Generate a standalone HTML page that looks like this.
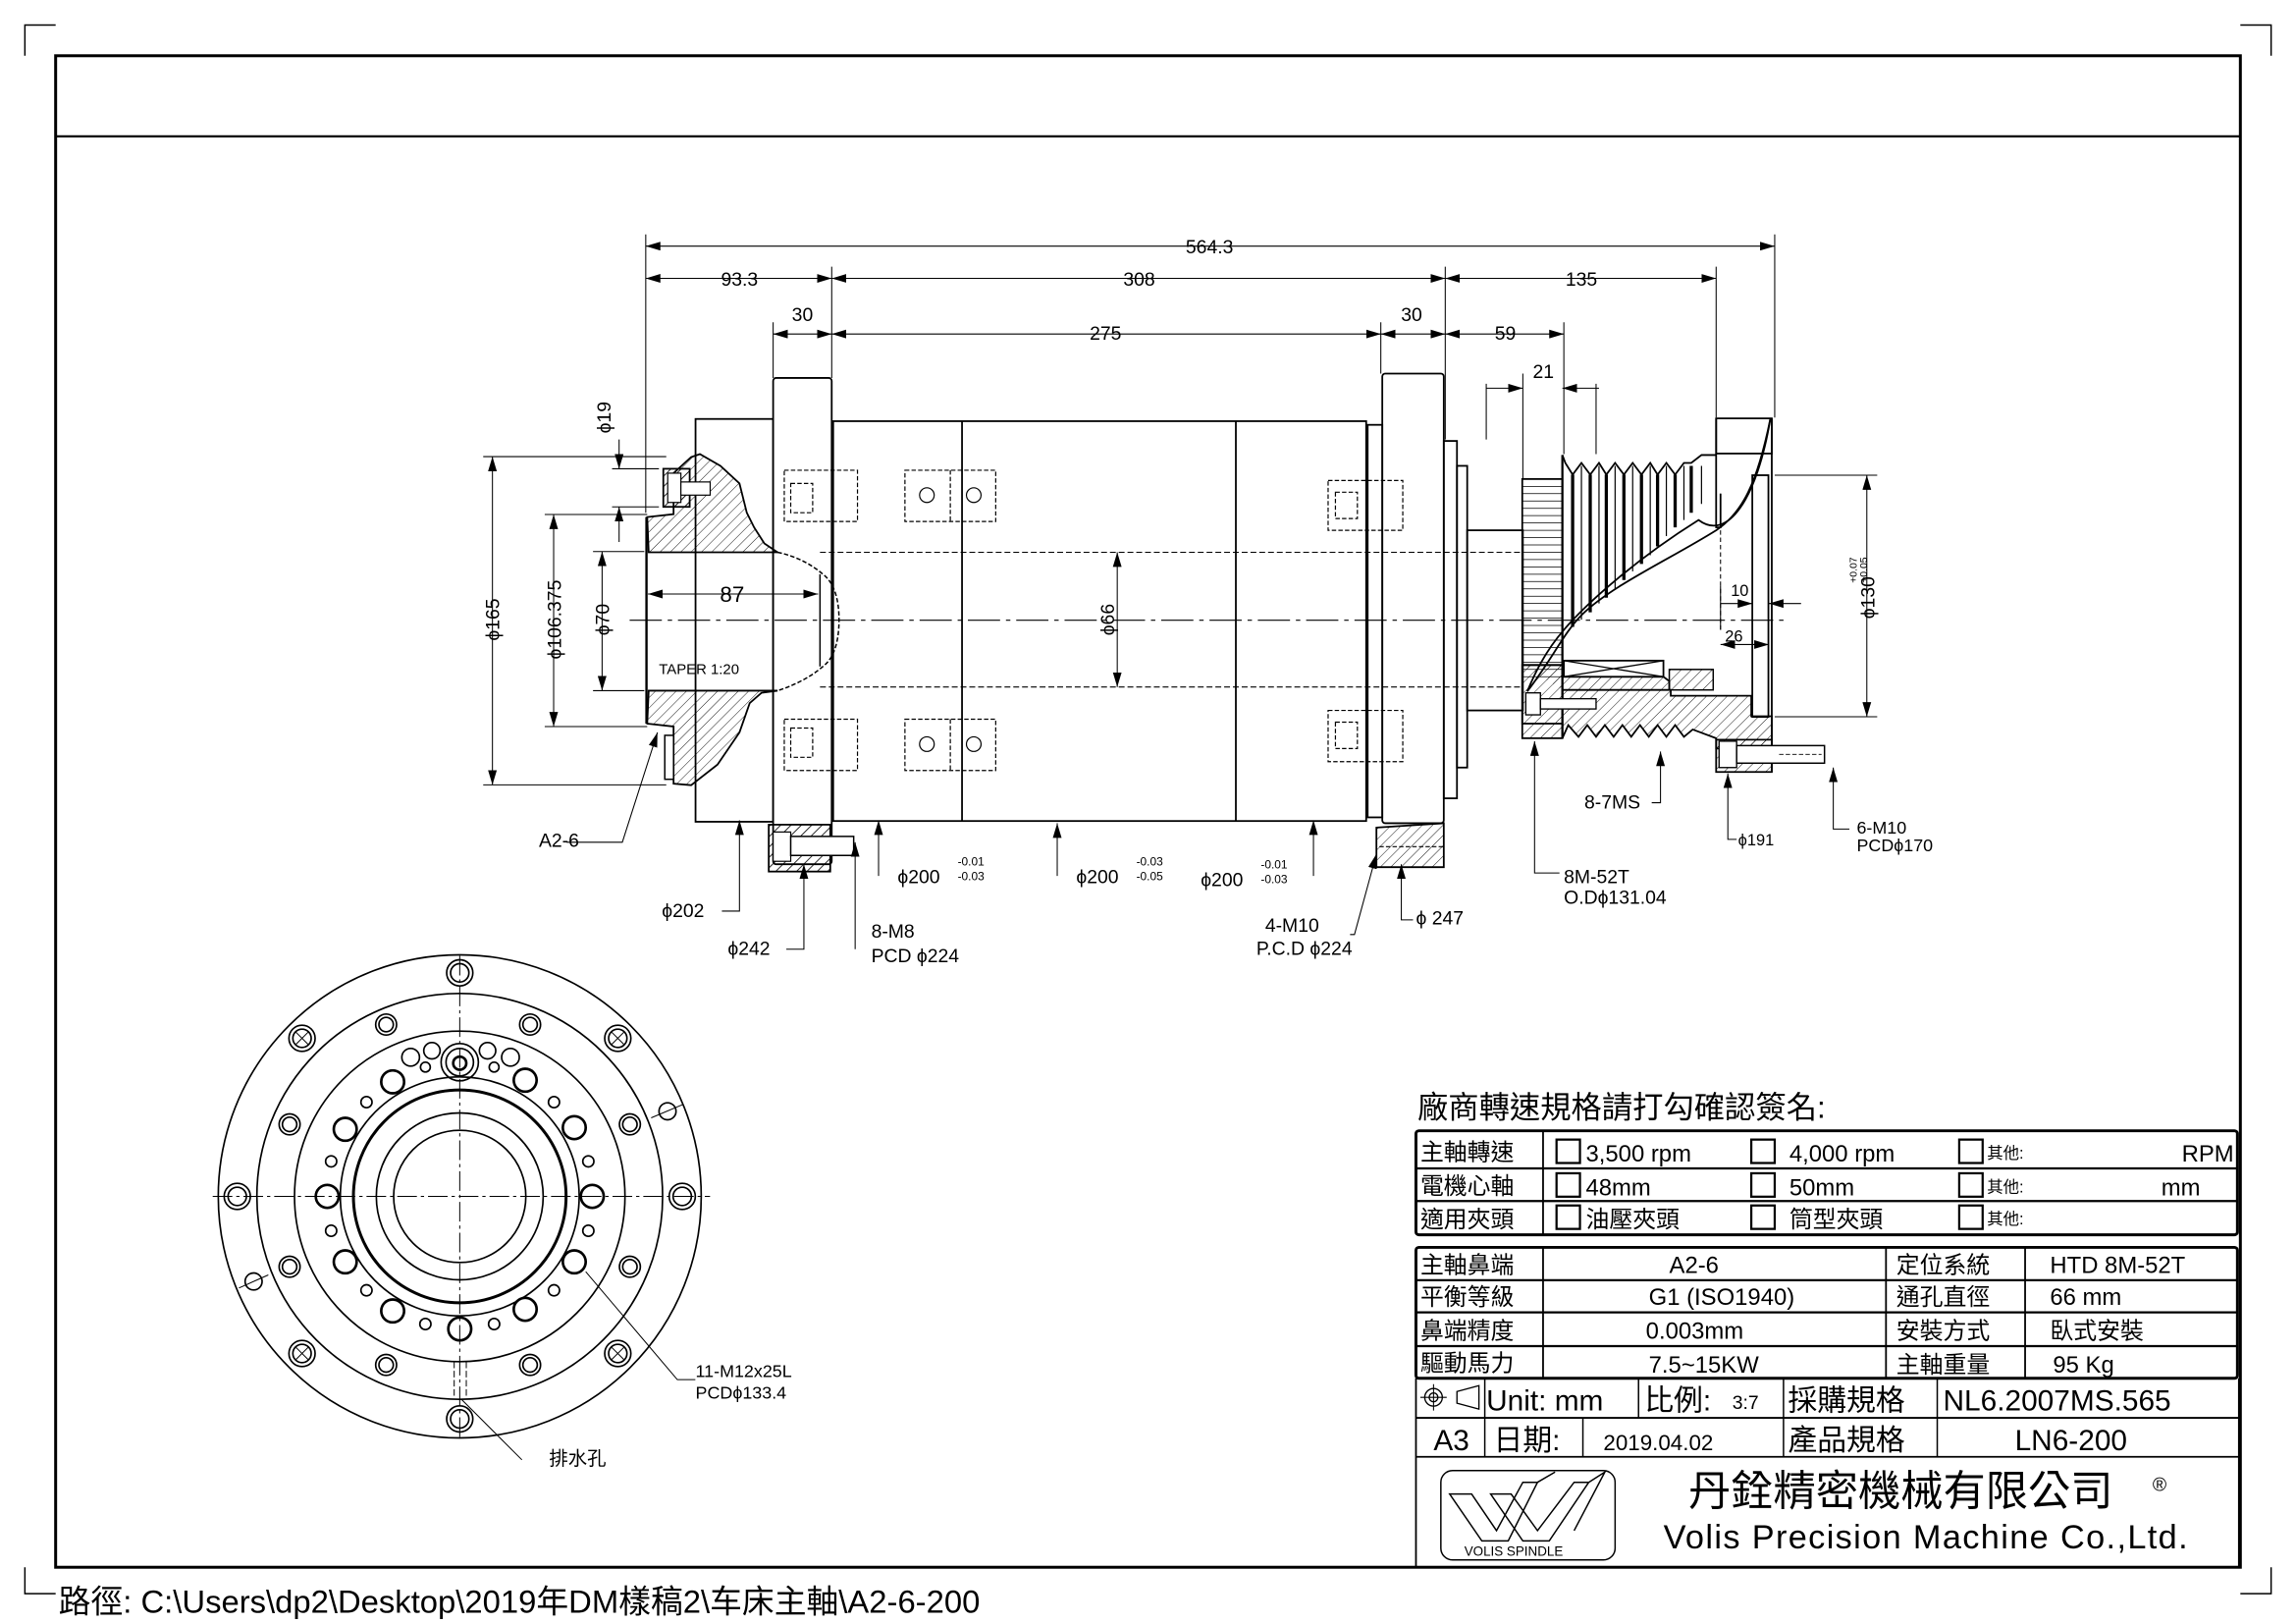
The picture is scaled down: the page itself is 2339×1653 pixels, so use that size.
<!DOCTYPE html>
<html><head><meta charset="utf-8">
<style>
html,body{margin:0;padding:0;background:#fff;}
svg{display:block;}
text{font-family:"Liberation Sans","Noto Sans CJK TC",sans-serif;fill:#000;}
.cj{font-family:"Liberation Sans","Noto Sans CJK TC",sans-serif;}
</style></head><body>
<svg width="2339" height="1653" viewBox="0 0 1568 1108" xmlns="http://www.w3.org/2000/svg">
<defs>
<marker id="ar" viewBox="0 0 10 6" refX="10" refY="3" markerWidth="10" markerHeight="6" orient="auto-start-reverse" markerUnits="userSpaceOnUse"><path d="M0,0 L10,3 L0,6 z" fill="#000"/></marker>
<pattern id="h" width="5" height="5" patternUnits="userSpaceOnUse" patternTransform="rotate(45)"><line x1="0" y1="0" x2="0" y2="5" stroke="#000" stroke-width="0.6"/></pattern>
<pattern id="h2" width="5" height="5" patternUnits="userSpaceOnUse" patternTransform="rotate(45)"><line x1="0" y1="0" x2="0" y2="5" stroke="#000" stroke-width="1.1"/></pattern>
</defs>
<rect width="1568" height="1108" fill="#fff"/>
<g fill="none" stroke="#000">
<rect x="38" y="38" width="1492" height="1032" stroke-width="2"/>
<line x1="38" y1="93" x2="1530" y2="93" stroke-width="1.5"/>
<path d="M17,38 V17 H38" stroke-width="1"/>
<path d="M1530,17 H1551 V38" stroke-width="1"/>
<path d="M1551,1070 V1088 H1530" stroke-width="1"/>
<path d="M17,1070 V1088 H38" stroke-width="1"/>
</g>
<text x="40" y="1101" font-size="22">路徑: C:\Users\dp2\Desktop\2019年DM樣稿2\车床主軸\A2-6-200</text>

<g fill="none" stroke="#000" stroke-width="1.2">
<line x1="430" y1="423.4" x2="1220" y2="423.4" stroke-width="0.7" stroke-dasharray="22 4 3 4"/>
<line x1="560" y1="377" x2="1040" y2="377" stroke-width="0.7" stroke-dasharray="4 2"/>
<line x1="560" y1="469" x2="1040" y2="469" stroke-width="0.7" stroke-dasharray="4 2"/>
<rect x="475" y="286" width="53" height="275"/>
<rect x="528" y="258" width="40" height="332" rx="2"/>
<rect x="569" y="287.5" width="364" height="273"/>
<line x1="657" y1="287.5" x2="657" y2="560.5"/>
<line x1="844" y1="287.5" x2="844" y2="560.5"/>
<rect x="934" y="290" width="10" height="268"/>
<rect x="944" y="255" width="42" height="307" rx="2"/>
<rect x="986" y="301" width="9" height="244"/>
<rect x="995" y="318" width="7" height="206"/>
<rect x="1002" y="362" width="38" height="123"/>
<rect x="1039.6" y="327" width="27.4" height="167"/>
</g>
<g stroke="#000" stroke-width="0.5">
<path d="M1040,332H1067M1040,337H1067M1040,342H1067M1040,347H1067M1040,352H1067M1040,357H1067M1040,362H1067M1040,367H1067M1040,372H1067M1040,377H1067M1040,382H1067M1040,387H1067M1040,392H1067M1040,397H1067M1040,402H1067M1040,407H1067M1040,412H1067M1040,417H1067M1040,422H1067M1040,427H1067M1040,432H1067M1040,437H1067M1040,442H1067M1040,447H1067M1040,452H1067M1040,457H1067M1040,462H1067"/>
</g>
<path d="M442,353 L460,351 L460,323 L472,312 L478,310 L492,318 L505,330 L510,350 L515,360 L522,371 L531,377 L443,377 Z" fill="url(#h)" stroke="#000" stroke-width="1.2"/>
<path d="M442,494 L460,496 L460,535 L472,536 L490,522 L505,500 L512,480 L520,473 L531,471.5 L443,471.5 Z" fill="url(#h)" stroke="#000" stroke-width="1.2"/>
<line x1="441.5" y1="353" x2="441.5" y2="494" stroke="#000" stroke-width="1.6"/>
<path d="M531,377 C545,380 555,386 562,392 C570,398 573,410 573,423 C573,437 570,449 562,455 C555,461 545,467 531,471.5" fill="none" stroke="#000" stroke-width="1" stroke-dasharray="3 1.5"/>
<line x1="560" y1="392" x2="560" y2="455" stroke="#000" stroke-width="1"/>
<rect x="453" y="320" width="18" height="26" fill="url(#h2)" stroke="#000" stroke-width="1.2"/>
<rect x="456" y="323" width="9" height="20" fill="#fff" stroke="#000" stroke-width="0.8"/>
<rect x="465" y="329" width="20" height="9" fill="#fff" stroke="#000" stroke-width="0.8"/>
<rect x="454" y="502" width="6" height="30" fill="#fff" stroke="#000" stroke-width="1"/>
<g fill="none" stroke="#000" stroke-width="0.8" stroke-dasharray="3 1.5">
<rect x="535.6" y="321" width="50" height="35"/><rect x="540" y="330" width="15" height="20"/>
<rect x="535.6" y="491" width="50" height="35"/><rect x="540" y="497" width="15" height="20"/>
<rect x="618" y="321" width="62" height="35"/><line x1="649" y1="321" x2="649" y2="356"/>
<rect x="618" y="491" width="62" height="35"/><line x1="649" y1="491" x2="649" y2="526"/>
<rect x="907" y="328" width="51" height="34"/><rect x="912" y="336" width="15" height="18"/>
<rect x="907" y="485" width="51" height="35"/><rect x="912" y="493" width="15" height="18"/>
</g>
<g fill="none" stroke="#000" stroke-width="0.8">
<circle cx="633" cy="338" r="5"/><circle cx="665" cy="338" r="5"/>
<circle cx="633" cy="508" r="5"/><circle cx="665" cy="508" r="5"/>
</g>
<rect x="525" y="563" width="42" height="32" fill="url(#h2)" stroke="#000" stroke-width="1.2"/>
<rect x="528" y="568" width="12" height="20" fill="#fff" stroke="#000" stroke-width="0.8"/>
<rect x="540" y="571" width="43" height="13" fill="#fff" stroke="#000" stroke-width="1"/>
<path d="M940,565 L986,562 L986,592 L940,592 Z" fill="url(#h)" stroke="#000" stroke-width="1.2"/>
<line x1="942" y1="578" x2="986" y2="578" stroke="#000" stroke-width="0.8" stroke-dasharray="3 1.5"/>
<path d="M1067,310.6 L1069,316 L1074,324 L1080,316 L1086,324 L1092,316 L1097,324 L1103,316 L1109,324 L1115,316 L1121,324 L1127,316 L1132,324 L1138,316 L1144,324 L1150,316 L1155,316 L1162,310.6 L1172,310.6" fill="none" stroke="#000" stroke-width="1.2"/>
<line x1="1067" y1="310.6" x2="1067" y2="504" stroke="#000" stroke-width="1.5"/>
<g stroke="#000" stroke-width="2.2">
<path d="M1074,324V428M1086,324V418M1097,324V408M1109,324V396M1121,324V385M1132,324V373M1144,324V360M1155,318V350"/>
</g>
<g stroke="#000" stroke-width="0.8"><path d="M1080,318V423M1092,318V412M1103,318V402M1115,318V390M1127,318V379M1138,318V366M1150,318V355M1162,318V344"/></g>
<path d="M1209,286 C1200,340 1180,370 1160,355 C1120,380 1085,410 1068,430 C1055,445 1048,460 1043,472" fill="none" stroke="#000" stroke-width="1.2"/>
<path d="M1209,286 C1200,330 1190,350 1172,362 C1140,382 1100,400 1080,420 C1068,432 1060,450 1043,472" fill="none" stroke="#000" stroke-width="1.2"/>
<g fill="none" stroke="#000" stroke-width="1.2">
<rect x="1172" y="285.6" width="38" height="24"/>
<path d="M1172,285.6 V360 H1175 V337"/>
<line x1="1210" y1="285.6" x2="1210" y2="527"/>
<rect x="1196.7" y="324.4" width="11" height="165"/>
<line x1="1175" y1="337" x2="1175" y2="430" stroke-dasharray="3 2" stroke-width="0.7"/>
</g>
<path d="M1040,454 L1067,454 L1067,462 L1136,462 L1140,465 L1140,471 L1067,471 L1067,504 L1071,495 L1078,503 L1084,495 L1090,503 L1096,495 L1102,503 L1108,495 L1114,503 L1120,495 L1126,503 L1132,495 L1138,503 L1144,495 L1150,503 L1156,498 L1172,504 L1172,511 L1210,511 L1210,489 L1196,489 L1196,475 L1141,475 L1141,471 L1067,471" fill="url(#h)" stroke="#000" stroke-width="1.2"/>
<path d="M1039.6,454 L1067,454 L1067,504 L1039.6,504 Z" fill="url(#h)" stroke="#000" stroke-width="1.2"/>
<rect x="1068" y="451" width="68" height="11" fill="#fff" stroke="#000" stroke-width="1.2"/>
<path d="M1068,451 L1136,462 M1068,462 L1136,451" stroke="#000" stroke-width="0.9"/>
<rect x="1140" y="457" width="30" height="14" fill="url(#h)" stroke="#000" stroke-width="1"/>
<rect x="1042" y="473" width="10" height="15" fill="#fff" stroke="#000" stroke-width="0.9"/>
<rect x="1052" y="477" width="38" height="7" fill="#fff" stroke="#000" stroke-width="0.9"/>
<path d="M1172,505 L1210,505 L1210,527 L1172,527 Z" fill="url(#h)" stroke="#000" stroke-width="1.2"/>
<rect x="1174" y="506" width="12" height="18" fill="#fff" stroke="#000" stroke-width="0.9"/>
<rect x="1186" y="509" width="60" height="12" fill="#fff" stroke="#000" stroke-width="1"/>
<line x1="1215" y1="515" x2="1244" y2="515" stroke="#000" stroke-width="0.6" stroke-dasharray="3 1.5"/>

<g fill="none" stroke="#000" stroke-width="0.7">
<path d="M441,160V350M568,182V258M528,220V258M943,220V255M987,182V300M1212,160V285M1172,182V285M1068,220V310M1040,255V327M1015,262V300M1090,262V310"/>
<line x1="441" y1="168" x2="1212" y2="168" marker-start="url(#ar)" marker-end="url(#ar)"/>
<line x1="441" y1="190" x2="568" y2="190" marker-start="url(#ar)" marker-end="url(#ar)"/>
<line x1="568" y1="190" x2="987" y2="190" marker-start="url(#ar)" marker-end="url(#ar)"/>
<line x1="987" y1="190" x2="1172" y2="190" marker-start="url(#ar)" marker-end="url(#ar)"/>
<line x1="528" y1="228" x2="568" y2="228" marker-start="url(#ar)" marker-end="url(#ar)"/>
<line x1="568" y1="228" x2="943" y2="228" marker-start="url(#ar)" marker-end="url(#ar)"/>
<line x1="943" y1="228" x2="987" y2="228" marker-start="url(#ar)" marker-end="url(#ar)"/>
<line x1="987" y1="228" x2="1068" y2="228" marker-start="url(#ar)" marker-end="url(#ar)"/>
<line x1="1015" y1="265" x2="1040" y2="265" marker-end="url(#ar)"/>
<line x1="1092" y1="265" x2="1067" y2="265" marker-end="url(#ar)"/>
<path d="M330,311.7H455M330,535.8H455M372,351.2H442M372,496H442M405,376.5H440M405,471.5H440M418,320H450M418,346H450"/>
<line x1="336.3" y1="311.7" x2="336.3" y2="535.8" marker-start="url(#ar)" marker-end="url(#ar)"/>
<line x1="378.1" y1="351.2" x2="378.1" y2="496" marker-start="url(#ar)" marker-end="url(#ar)"/>
<line x1="411.2" y1="376.5" x2="411.2" y2="471.5" marker-start="url(#ar)" marker-end="url(#ar)"/>
<line x1="422.8" y1="300" x2="422.8" y2="320" marker-end="url(#ar)"/>
<line x1="422.8" y1="370" x2="422.8" y2="346" marker-end="url(#ar)"/>
<line x1="442.5" y1="405.5" x2="558.7" y2="405.5" marker-start="url(#ar)" marker-end="url(#ar)"/>
<line x1="763" y1="377" x2="763" y2="469" marker-start="url(#ar)" marker-end="url(#ar)"/>
<path d="M1212,324.4H1282M1212,489.3H1282M1175,430V400"/>
<line x1="1274.9" y1="324.4" x2="1274.9" y2="489.3" marker-start="url(#ar)" marker-end="url(#ar)"/>
<line x1="1175" y1="412" x2="1196.7" y2="412" marker-end="url(#ar)"/>
<line x1="1230" y1="412" x2="1208" y2="412" marker-end="url(#ar)"/>
<line x1="1175" y1="440" x2="1208" y2="440" marker-start="url(#ar)" marker-end="url(#ar)"/>
<polyline points="387,575 425,575 449,500" marker-end="url(#ar)"/>
<polyline points="493,622 505,622 505,560" marker-end="url(#ar)"/>
<polyline points="537,648 549,648 549,590" marker-end="url(#ar)"/>
<polyline points="584,648 584,575" marker-end="url(#ar)"/>
<polyline points="600,598 600,560" marker-end="url(#ar)"/>
<polyline points="722,598 722,562" marker-end="url(#ar)"/>
<polyline points="897,598 897,560" marker-end="url(#ar)"/>
<polyline points="922,638 925,638 940,583" marker-end="url(#ar)"/>
<polyline points="965,628 957,628 957,590" marker-end="url(#ar)"/>
<polyline points="1065,596 1048,596 1048,506" marker-end="url(#ar)"/>
<polyline points="1128,548 1134,548 1134,513" marker-end="url(#ar)"/>
<polyline points="1186,573 1180,573 1180,528" marker-end="url(#ar)"/>
<polyline points="1263,566 1252,566 1252,524" marker-end="url(#ar)"/>
</g>
<g font-size="13">
<text x="826" y="173" text-anchor="middle">564.3</text>
<text x="505" y="195" text-anchor="middle">93.3</text>
<text x="778" y="195" text-anchor="middle">308</text>
<text x="1080" y="195" text-anchor="middle">135</text>
<text x="548" y="219" text-anchor="middle">30</text>
<text x="755" y="232" text-anchor="middle">275</text>
<text x="964" y="219" text-anchor="middle">30</text>
<text x="1028" y="232" text-anchor="middle">59</text>
<text x="1054" y="258" text-anchor="middle">21</text>
<text transform="translate(417,285) rotate(-90)" text-anchor="middle">ϕ19</text>
<text transform="translate(341,423) rotate(-90)" text-anchor="middle">ϕ165</text>
<text transform="translate(383,423) rotate(-90)" text-anchor="middle">ϕ106.375</text>
<text transform="translate(416,423) rotate(-90)" text-anchor="middle">ϕ70</text>
<text transform="translate(761,423) rotate(-90)" text-anchor="middle">ϕ66</text>
<text transform="translate(1280,408) rotate(-90)" text-anchor="middle">ϕ130</text>
<text x="500" y="411" text-anchor="middle" font-size="15">87</text>
<text x="1182" y="407" font-size="11">10</text>
<text x="1178" y="438" font-size="11">26</text>
<text x="368" y="578">A2-6</text>
<text x="452" y="626">ϕ202</text>
<text x="497" y="652">ϕ242</text>
<text x="595" y="640">8-M8</text>
<text x="595" y="657">PCD ϕ224</text>
<text x="613" y="603">ϕ200</text>
<text x="735" y="603">ϕ200</text>
<text x="820" y="605">ϕ200</text>
<text x="864" y="636">4-M10</text>
<text x="858" y="652">P.C.D ϕ224</text>
<text x="967" y="631">ϕ 247</text>
<text x="1068" y="603">8M-52T</text>
<text x="1068" y="617">O.Dϕ131.04</text>
<text x="1082" y="552">8-7MS</text>
<text x="1187" y="577" font-size="11">ϕ191</text>
<text x="1268" y="569" font-size="12">6-M10</text>
<text x="1268" y="581" font-size="12">PCDϕ170</text>
<text x="475" y="940" font-size="12">11-M12x25L</text>
<text x="475" y="955" font-size="12">PCDϕ133.4</text>
<text x="375" y="1000" font-size="13">排水孔</text>
</g>
<g font-size="8">
<text x="654" y="591">-0.01</text><text x="654" y="601">-0.03</text>
<text x="776" y="591">-0.03</text><text x="776" y="601">-0.05</text>
<text x="861" y="593">-0.01</text><text x="861" y="603">-0.03</text>
<text transform="translate(1268,398) rotate(-90)" font-size="7">+0.07</text>
<text transform="translate(1275,398) rotate(-90)" font-size="7">+0.05</text>
</g>
<text x="450" y="460" font-size="10">TAPER 1:20</text>

<g transform="translate(154.2,643.6) scale(0.22346)" fill="none" stroke="#000" stroke-width="5">
<line x1="-40" y1="775" x2="1480" y2="775" stroke-width="3" stroke-dasharray="60 12 10 12"/>
<line x1="715" y1="40" x2="715" y2="1520" stroke-width="3" stroke-dasharray="60 12 10 12"/>
<circle cx="715" cy="775" r="738"/>
<circle cx="715" cy="775" r="620"/>
<circle cx="715" cy="775" r="505"/>
<circle cx="715" cy="775" r="365"/>
<circle cx="715" cy="775" r="325" stroke-width="9"/>
<circle cx="715" cy="775" r="255"/>
<circle cx="715" cy="775" r="202"/>
<g>
<circle cx="715" cy="92" r="40"/><circle cx="715" cy="92" r="28"/>
<circle cx="715" cy="1455" r="40"/><circle cx="715" cy="1455" r="28"/>
<circle cx="35" cy="775" r="40"/><circle cx="35" cy="775" r="28"/>
<circle cx="1395" cy="775" r="40"/><circle cx="1395" cy="775" r="28"/>
<circle cx="233" cy="292" r="40"/><circle cx="233" cy="292" r="28"/><path d="M213,272L253,312M253,272L213,312" stroke-width="3"/>
<circle cx="1198" cy="292" r="40"/><circle cx="1198" cy="292" r="28"/><path d="M1178,272L1218,312M1218,272L1178,312" stroke-width="3"/>
<circle cx="233" cy="1255" r="40"/><circle cx="233" cy="1255" r="28"/><path d="M213,1235L253,1275M253,1235L213,1275" stroke-width="3"/>
<circle cx="1198" cy="1255" r="40"/><circle cx="1198" cy="1255" r="28"/><path d="M1178,1235L1218,1275M1218,1235L1178,1275" stroke-width="3"/>
<circle cx="1350" cy="515" r="26"/><circle cx="85" cy="1035" r="26"/>
<path d="M1300,535L1395,495M40,1055L130,1015" stroke-width="3"/>
</g>
<g>
<circle cx="490" cy="250" r="32"/><circle cx="490" cy="250" r="22"/>
<circle cx="930" cy="250" r="32"/><circle cx="930" cy="250" r="22"/>
<circle cx="195" cy="555" r="32"/><circle cx="195" cy="555" r="22"/>
<circle cx="1235" cy="555" r="32"/><circle cx="1235" cy="555" r="22"/>
<circle cx="195" cy="990" r="32"/><circle cx="195" cy="990" r="22"/>
<circle cx="1235" cy="990" r="32"/><circle cx="1235" cy="990" r="22"/>
<circle cx="490" cy="1290" r="32"/><circle cx="490" cy="1290" r="22"/>
<circle cx="930" cy="1290" r="32"/><circle cx="930" cy="1290" r="22"/>
</g>
<g stroke-width="8">
<circle cx="510" cy="425" r="35"/><circle cx="915" cy="420" r="35"/>
<circle cx="365" cy="570" r="35"/><circle cx="1065" cy="565" r="35"/>
<circle cx="310" cy="775" r="35"/><circle cx="1120" cy="775" r="35"/>
<circle cx="365" cy="975" r="35"/><circle cx="1065" cy="975" r="35"/>
<circle cx="510" cy="1125" r="35"/><circle cx="915" cy="1120" r="35"/>
<circle cx="715" cy="1180" r="35"/>
</g>
<g>
<circle cx="430" cy="487" r="17"/><circle cx="1003" cy="487" r="17"/>
<circle cx="322" cy="668" r="17"/><circle cx="1108" cy="668" r="17"/>
<circle cx="322" cy="880" r="17"/><circle cx="1108" cy="880" r="17"/>
<circle cx="430" cy="1062" r="17"/><circle cx="1003" cy="1062" r="17"/>
<circle cx="610" cy="1165" r="17"/><circle cx="820" cy="1165" r="17"/>
<circle cx="565" cy="350" r="27"/><circle cx="630" cy="330" r="25"/><circle cx="610" cy="380" r="15"/>
<circle cx="800" cy="330" r="25"/><circle cx="870" cy="350" r="27"/><circle cx="820" cy="380" r="15"/>
<circle cx="715" cy="365" r="57"/><circle cx="715" cy="365" r="42"/><circle cx="715" cy="368" r="20" stroke-width="8"/>
</g>
<path d="M698,1280V1390M735,1280V1390" stroke-width="3" stroke-dasharray="20 8"/>
<path d="M1100,1005L1380,1335H1435" stroke-width="3"/>
<path d="M720,1395L905,1580" stroke-width="3"/>
</g>

<text x="968" y="763" font-size="21" class="cj">廠商轉速規格請打勾確認簽名:</text>
<g fill="none" stroke="#000">
<rect x="967" y="772" width="561" height="71" rx="2" stroke-width="2"/>
<line x1="967" y1="797.7" x2="1528" y2="797.7" stroke-width="1.5"/>
<line x1="967" y1="820" x2="1528" y2="820" stroke-width="1.5"/>
<line x1="1053.8" y1="772" x2="1053.8" y2="843" stroke-width="1.2"/>
<g stroke-width="1.5">
<rect x="1063" y="778" width="16" height="16"/><rect x="1196" y="778" width="16" height="16"/><rect x="1338" y="778" width="16" height="16"/>
<rect x="1063" y="801" width="16" height="16"/><rect x="1196" y="801" width="16" height="16"/><rect x="1338" y="801" width="16" height="16"/>
<rect x="1063" y="823" width="16" height="16"/><rect x="1196" y="823" width="16" height="16"/><rect x="1338" y="823" width="16" height="16"/>
</g>
<rect x="967" y="851.6" width="561" height="89.4" rx="2" stroke-width="2"/>
<line x1="967" y1="874" x2="1528" y2="874" stroke-width="1.5"/>
<line x1="967" y1="896" x2="1528" y2="896" stroke-width="1.5"/>
<line x1="967" y1="919" x2="1528" y2="919" stroke-width="1.5"/>
<line x1="1053.8" y1="851.6" x2="1053.8" y2="941" stroke-width="1.2"/>
<line x1="1288" y1="851.6" x2="1288" y2="941" stroke-width="1.2"/>
<line x1="1383" y1="851.6" x2="1383" y2="941" stroke-width="1.2"/>
<line x1="967" y1="941" x2="967" y2="1070" stroke-width="1.2"/>
<line x1="1529" y1="941" x2="1529" y2="1070" stroke-width="1.2"/>
<line x1="967" y1="968" x2="1529" y2="968" stroke-width="1.2"/>
<line x1="967" y1="994.6" x2="1529" y2="994.6" stroke-width="1.2"/>
<line x1="1014" y1="941" x2="1014" y2="994.6" stroke-width="1"/>
<line x1="1119" y1="941" x2="1119" y2="968" stroke-width="1"/>
<line x1="1081" y1="968" x2="1081" y2="994.6" stroke-width="1"/>
<line x1="1218" y1="941" x2="1218" y2="994.6" stroke-width="1"/>
<line x1="1323" y1="941" x2="1323" y2="994.6" stroke-width="1"/>
<circle cx="979" cy="954" r="6" stroke-width="0.9"/><circle cx="979" cy="954" r="3" stroke-width="0.9"/>
<path d="M970,954H988M979,945V963" stroke-width="0.7"/>
<path d="M995,950L1010,946V962L995,958Z" stroke-width="0.9"/>
<rect x="984" y="1004" width="119" height="61" rx="8" stroke-width="1"/>
<path d="M990,1020 L1012,1052 L1030,1052 L1050,1012 L1040,1012 L1022,1045 L1005,1020 Z" stroke-width="1"/>
<path d="M1018,1020 L1040,1052 L1058,1052 L1085,1012 L1075,1012 L1050,1045 L1032,1020 Z" stroke-width="1"/>
<path d="M1050,1012 L1062,1005 M1085,1012 L1096,1005 L1075,1045" stroke-width="1"/>
</g>
<g font-size="16" class="cj">
<text x="970" y="792">主軸轉速</text>
<text x="970" y="815">電機心軸</text>
<text x="970" y="838">適用夾頭</text>
<text x="1083" y="793">3,500 rpm</text>
<text x="1222" y="793">4,000 rpm</text>
<text x="1083" y="816">48mm</text>
<text x="1222" y="816">50mm</text>
<text x="1083" y="838">油壓夾頭</text>
<text x="1222" y="838">筒型夾頭</text>
<text x="1490" y="793">RPM</text>
<text x="1476" y="816">mm</text>
<text x="970" y="869">主軸鼻端</text>
<text x="970" y="891">平衡等級</text>
<text x="970" y="914">鼻端精度</text>
<text x="970" y="936">驅動馬力</text>
<text x="1140" y="869">A2-6</text>
<text x="1126" y="891">G1  (ISO1940)</text>
<text x="1124" y="914">0.003mm</text>
<text x="1126" y="937">7.5~15KW</text>
<text x="1295" y="869">定位系統</text>
<text x="1295" y="891">通孔直徑</text>
<text x="1295" y="914">安裝方式</text>
<text x="1295" y="937">主軸重量</text>
<text x="1400" y="869">HTD 8M-52T</text>
<text x="1400" y="891">66 mm</text>
<text x="1400" y="914">臥式安裝</text>
<text x="1402" y="937">95 Kg</text>
</g>
<g font-size="11" class="cj">
<text x="1357" y="791">其他:</text><text x="1357" y="814">其他:</text><text x="1357" y="836">其他:</text>
</g>
<g font-size="18" class="cj">
<text x="1015" y="963" font-size="20">Unit:  mm</text>
<text x="1123" y="963" font-size="20">比例:</text>
<text x="1183" y="962" font-size="13">3:7</text>
<text x="1221" y="963" font-size="20">採購規格</text>
<text x="1327" y="963" font-size="20">NL6.2007MS.565</text>
<text x="979" y="990" font-size="20">A3</text>
<text x="1020" y="990" font-size="20">日期:</text>
<text x="1095" y="990" font-size="15">2019.04.02</text>
<text x="1221" y="990" font-size="20">產品規格</text>
<text x="1376" y="990" font-size="20">LN6-200</text>
</g>
<text x="1153" y="1028" font-size="29" class="cj">丹銓精密機械有限公司</text>
<text x="1470" y="1018" font-size="13">®</text>
<text x="1136" y="1057" font-size="23" textLength="358">Volis Precision Machine Co.,Ltd.</text>
<text x="1000" y="1062" font-size="9">VOLIS SPINDLE</text>
</svg>
</body></html>
